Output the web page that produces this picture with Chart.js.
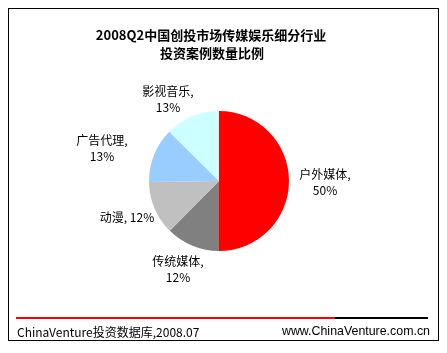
<!DOCTYPE html>
<html>
<head>
<meta charset="utf-8">
<script src="https://cdn.jsdelivr.net/npm/chart.js@4"></script>
<style>
  html, body { margin: 0; padding: 0; background: #fff; }
  #wrap { width: 447px; height: 353px; }
</style>
</head>
<body>
<div id="wrap"><canvas id="pieChart" width="447" height="353"></canvas></div>
<script>
// data, clockwise from 12 o'clock
var categories = ["户外媒体", "传统媒体", "动漫", "广告代理", "影视音乐"];
var shares = [50, 12.4, 12.4, 12.6, 12.6];
var sliceColors = ["#ff0000", "#808080", "#c0c0c0", "#99ccff", "#ccffff"];

var titleLines = ["2008Q2中国创投市场传媒娱乐细分行业", "投资案例数量比例"];
var sourceText = "ChinaVenture投资数据库,2008.07";
var siteText = "www.ChinaVenture.com.cn";

var cjkFont = "'Noto Sans CJK SC', 'Liberation Sans', sans-serif";

// label centre offset from the pie centre (px), and whether it stays on one line
var labelOffset = [[106, 1], [-41, 88], [-92, 36], [-117, -33], [-51, -82]];
var labelOneLine = [false, false, true, false, false];

var framePlugin = {
  id: "frame",
  beforeDraw: function(chart) {
    var ctx = chart.ctx;
    ctx.save();
    ctx.fillStyle = "#fff";
    ctx.fillRect(0, 0, chart.width, chart.height);
    ctx.strokeStyle = "#000";
    ctx.lineWidth = 1;
    ctx.strokeRect(8.5, 8.5, 430, 332);

    // title
    ctx.fillStyle = "#000";
    ctx.textAlign = "center";
    ctx.textBaseline = "middle";
    ctx.font = "bold 13px " + cjkFont;
    ctx.fillText(titleLines[0], 211, 35);
    ctx.fillText(titleLines[1], 212, 53);

    // footer rule
    ctx.lineWidth = 2;
    ctx.strokeStyle = "#ff0000";
    ctx.beginPath(); ctx.moveTo(16, 318); ctx.lineTo(335, 318); ctx.stroke();
    ctx.strokeStyle = "#000";
    ctx.beginPath(); ctx.moveTo(335, 318); ctx.lineTo(428, 318); ctx.stroke();

    ctx.font = "12px " + cjkFont;
    ctx.textAlign = "left";
    ctx.fillText(sourceText, 17, 332);
    ctx.textAlign = "right";
    ctx.font = "12.4px 'Liberation Sans', Arial, sans-serif";
    ctx.fillText(siteText, 430, 332);
    ctx.restore();
  }
};

var labelPlugin = {
  id: "sliceLabels",
  afterDatasetsDraw: function(chart) {
    var ctx = chart.ctx;
    var meta = chart.getDatasetMeta(0);
    ctx.save();
    ctx.fillStyle = "#000";
    ctx.textAlign = "center";
    ctx.textBaseline = "middle";
    ctx.font = "12px " + cjkFont;
    meta.data.forEach(function(arc, i) {
      var x = arc.x + labelOffset[i][0];
      var y = arc.y + labelOffset[i][1];
      var pct = Math.round(shares[i]) + "%";
      if (labelOneLine[i]) {
        ctx.fillText(categories[i] + ", " + pct, x, y);
      } else {
        ctx.fillText(categories[i] + ",", x, y - 8);
        ctx.fillText(pct, x, y + 8);
      }
    });
    ctx.restore();
  }
};

new Chart(document.getElementById("pieChart"), {
  type: "pie",
  data: {
    labels: categories,
    datasets: [{
      data: shares,
      backgroundColor: sliceColors,
      borderWidth: 0
    }]
  },
  options: {
    responsive: false,
    animation: false,
    layout: { padding: { top: 111, bottom: 102, left: 149, right: 158 } },
    plugins: {
      legend: { display: false },
      title: { display: false },
      tooltip: { enabled: false }
    }
  },
  plugins: [framePlugin, labelPlugin]
});
</script>
</body>
</html>
